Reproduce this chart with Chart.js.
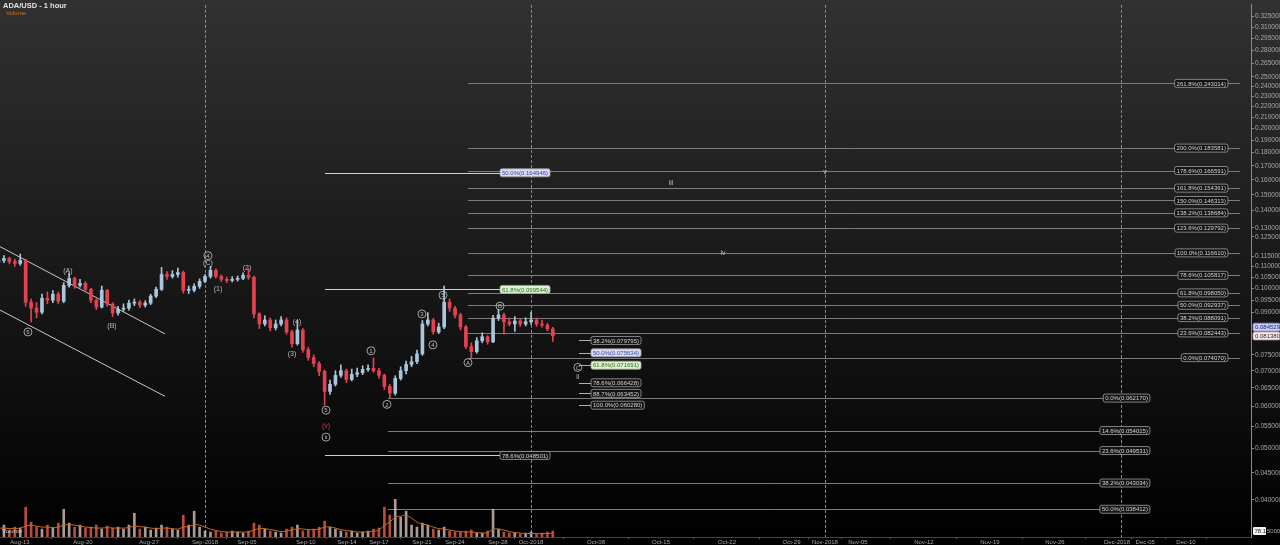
<!DOCTYPE html>
<html><head><meta charset="utf-8">
<script src="https://cdn.jsdelivr.net/npm/chart.js@4.4.1/dist/chart.umd.min.js"></script>
<style>html,body{margin:0;padding:0;background:#000;overflow:hidden}#wrap{width:1280px;height:545px}</style>
</head><body><div id="wrap"><canvas id="c" width="1280" height="545"></canvas></div>
<script>
// ---------- DATA (x unit = days since Aug-13-2018, 12h candles) ----------
const barStepDays = 0.5;
const opens = [0.1120,0.1128,0.1138,0.1123,0.1114,0.1128,0.0942,0.0918,0.0902,0.0958,
 0.0950,0.0975,0.0946,0.1013,0.1044,0.1013,0.1022,0.0996,0.0950,0.0922,
 0.0992,0.0934,0.0899,0.0914,0.0918,0.0938,0.0942,0.0930,0.0938,0.0967,
 0.0996,0.1062,0.1053,0.1062,0.1071,0.0992,0.0992,0.1009,0.1031,0.1053,
 0.1081,0.1053,0.1040,0.1035,0.1040,0.1044,0.1058,0.1049,0.0895,0.0857,
 0.0872,0.0843,0.0857,0.0872,0.0828,0.0787,0.0835,0.0767,0.0741,0.0722,
 0.0698,0.0640,0.0660,0.0686,0.0700,0.0674,0.0689,0.0694,0.0704,0.0707,
 0.0700,0.0686,0.0654,0.0635,0.0677,0.0700,0.0719,0.0728,0.0753,0.0857,
 0.0872,0.0828,0.0846,0.0942,0.0918,0.0891,0.0846,0.0777,0.0760,0.0797,
 0.0811,0.0793,0.0879,0.0891,0.0865,0.0857,0.0868,0.0857,0.0865,0.0872,
 0.0857,0.0853,0.0839];
const closes = [0.1128,0.1138,0.1123,0.1114,0.1128,0.0942,0.0918,0.0902,0.0958,0.0950,
 0.0975,0.0946,0.1013,0.1044,0.1013,0.1022,0.0996,0.0950,0.0922,0.0992,
 0.0934,0.0899,0.0914,0.0918,0.0938,0.0942,0.0930,0.0938,0.0967,0.0996,
 0.1062,0.1053,0.1062,0.1071,0.0992,0.0992,0.1009,0.1031,0.1053,0.1081,
 0.1053,0.1040,0.1035,0.1040,0.1044,0.1058,0.1049,0.0895,0.0857,0.0872,
 0.0843,0.0857,0.0872,0.0828,0.0787,0.0835,0.0767,0.0741,0.0722,0.0698,
 0.0640,0.0660,0.0686,0.0700,0.0674,0.0689,0.0694,0.0704,0.0707,0.0700,
 0.0686,0.0654,0.0635,0.0677,0.0700,0.0719,0.0728,0.0753,0.0857,0.0872,
 0.0828,0.0846,0.0942,0.0918,0.0891,0.0846,0.0777,0.0760,0.0797,0.0811,
 0.0793,0.0879,0.0891,0.0865,0.0857,0.0868,0.0857,0.0865,0.0872,0.0857,
 0.0853,0.0839,0.0814];
const highs = [0.1150,0.1152,0.1145,0.1135,0.1160,0.1135,0.0955,0.0940,0.0975,0.0985,
 0.0990,0.0985,0.1025,0.1068,0.1050,0.1040,0.1030,0.1000,0.0955,0.1010,
 0.0995,0.0940,0.0925,0.0935,0.0950,0.0955,0.0950,0.0948,0.0975,0.1005,
 0.1095,0.1075,0.1080,0.1092,0.1078,0.1010,0.1020,0.1042,0.1062,0.1100,
 0.1088,0.1060,0.1050,0.1052,0.1055,0.1070,0.1090,0.1055,0.0900,0.0888,
 0.0880,0.0872,0.0885,0.0880,0.0835,0.0870,0.0840,0.0775,0.0750,0.0728,
 0.0702,0.0672,0.0700,0.0718,0.0705,0.0705,0.0708,0.0715,0.0718,0.0740,
 0.0708,0.0690,0.0660,0.0685,0.0712,0.0730,0.0745,0.0765,0.0870,0.0900,
 0.0878,0.0860,0.1010,0.0955,0.0925,0.0898,0.0852,0.0790,0.0808,0.0825,
 0.0815,0.0890,0.0912,0.0898,0.0880,0.0885,0.0878,0.0880,0.0902,0.0880,
 0.0872,0.0860,0.0845];
const lows = [0.1110,0.1118,0.1112,0.1100,0.1105,0.0925,0.0865,0.0880,0.0895,0.0935,
 0.0940,0.0935,0.0940,0.1005,0.1000,0.1005,0.0985,0.0940,0.0912,0.0918,
 0.0925,0.0885,0.0890,0.0905,0.0910,0.0928,0.0920,0.0922,0.0932,0.0960,
 0.0990,0.1040,0.1045,0.1050,0.0980,0.0978,0.0985,0.1000,0.1025,0.1045,
 0.1045,0.1030,0.1025,0.1028,0.1032,0.1038,0.1040,0.0880,0.0840,0.0850,
 0.0832,0.0835,0.0850,0.0820,0.0775,0.0782,0.0758,0.0732,0.0712,0.0685,
 0.0603,0.0632,0.0655,0.0680,0.0665,0.0670,0.0682,0.0688,0.0698,0.0695,
 0.0678,0.0645,0.06217,0.0630,0.0672,0.0690,0.0712,0.0722,0.0748,0.0850,
 0.0820,0.0822,0.0840,0.0905,0.0880,0.0835,0.0770,0.07407,0.0755,0.0790,
 0.0785,0.0790,0.0870,0.0820,0.0850,0.0830,0.0848,0.0850,0.0855,0.0848,
 0.0845,0.0832,0.0795];
const volumes = [16,24,12,20,18,60,30,20,16,24,
 18,28,56,28,20,24,18,20,24,16,
 22,18,20,16,24,48,16,20,14,18,
 24,20,16,14,44,24,52,20,12,10,
 12,8,10,12,10,8,12,28,24,16,
 12,10,8,16,20,24,12,14,16,20,
 32,20,16,12,10,12,8,10,12,16,
 18,60,44,76,40,52,24,20,28,24,
 16,14,20,12,10,10,12,14,8,8,
 12,56,16,10,8,8,6,8,10,6,
 8,10,12];
const volumeAvg = [18,18,17,17,18,22,24,22,20,20,
 19,20,24,25,24,22,20,19,18,18,
 19,18,18,18,19,22,21,20,18,17,
 18,18,17,16,20,21,25,24,20,16,
 13,11,10,10,10,10,10,14,17,17,
 15,13,11,12,14,17,16,15,15,16,
 20,20,18,15,13,12,10,10,10,12,
 14,24,30,40,42,44,38,30,26,24,
 20,17,16,14,12,11,10,10,9,8,
 9,16,16,14,11,9,8,7,7,7,
 7,7,8];

// axis ticks
const xTickPos = [1.98,7.77,13.85,19.0,22.86,28.29,32.06,35.0,38.96,42.0,45.95,48.99,54.97,60.95,67.02,72.96,76.03,79.07,85.14,91.21,97.19,102.9,105.5,109.25];
const xTickLabels = ['Aug-13','Aug-20','Aug-27','Sep-2018','Sep-05','Sep-10','Sep-14','Sep-17','Sep-21','Sep-24','Sep-28','Oct-2018','Oct-08','Oct-15','Oct-22','Oct-29','Nov-2018','Nov-05','Nov-12','Nov-19','Nov-26','Dec-2018','Dec-05','Dec-10'];
const monthLinePos = [19.0,48.99,76.03,103.27];
const yTickVals = [0.325,0.31,0.295,0.28,0.265,0.25,0.24,0.23,0.22,0.21,0.2,0.19,0.18,0.17,0.16,0.15,0.14,0.13,0.125,0.115,0.11,0.105,0.1,0.095,0.09,0.075,0.07,0.065,0.06,0.055,0.05,0.045,0.04];

// Fibonacci sets
const fibRightPct = ['261.8%','200.0%','178.6%','161.8%','150.0%','138.2%','123.6%','100.0%','78.6%','61.8%','50.0%','38.2%','23.6%','0.0%'];
const fibRightVal = [0.243014,0.183581,0.166591,0.154361,0.146313,0.138684,0.129792,0.116610,0.105817,0.098050,0.092937,0.088091,0.082443,0.074070];
const fibRightSpan = [43.19,114.2];
const fibLowPct = ['0.0%','14.6%','23.6%','38.2%','50.0%'];
const fibLowVal = [0.062170,0.054015,0.049531,0.043034,0.038412];
const fibLowSpan = [35.83,105.93];
const fibLeftPct = ['50.0%','61.8%','78.6%'];
const fibLeftVal = [0.164946,0.099544,0.048501];
const fibLeftSpan = [30.04,46.14];
const fibMidPct = ['38.2%','50.0%','61.8%','78.6%','88.7%','100.0%'];
const fibMidVal = [0.079795,0.075634,0.071691,0.066428,0.063452,0.060280];
const fibMidSpan = [53.4,54.51];

// channel lines [day0, price0, day1, price1]
const channelUpper = [0.14,0.11979,15.32,0.08211];
const channelLower = [0.14,0.09102,15.32,0.06265];

// Elliott wave labels
const waveText  = ['5','(A)','(B)','4','(C)','(1)','(2)','(3)','(4)','5','(v)','ii','1','2','3','4','5','A','B','C','ii','iii','iv','v'];
const waveDay   = [2.71,6.39,10.44,19.27,19.27,20.2,22.86,27.0,27.46,30.13,30.13,30.13,34.27,35.74,38.96,39.97,40.89,43.19,46.14,53.3,53.3,61.87,66.65,76.03];
const wavePrice = [0.0828,0.1081,0.0853,0.1152,0.1118,0.1000,0.1095,0.0754,0.0865,0.0590,0.0551,0.0525,0.0763,0.0605,0.0895,0.0783,0.0971,0.0725,0.0926,0.0710,0.0683,0.1583,0.1166,0.1660];
const waveCircle= [1,0,0,1,0,0,0,0,0,1,0,1,1,1,1,1,1,1,1,1,0,0,0,0];

const lastPrices = [0.084529,0.081380];

// ---------- build ----------
const xMin = 0.138, xMax = 115.23;
const yMin = 0.034063, yMax = 0.34135;
const UP = '#a9c6de', DOWN = '#e5424f';
const candleX = closes.map((_,i)=>i*barStepDays);
const isUp = closes.map((c,i)=>c>=opens[i]);
const wickData = candleX.map((x,i)=>({x, y:[lows[i],highs[i]]}));
const bodyData = candleX.map((x,i)=>({x, y:[opens[i],closes[i]]}));
const volData = candleX.map((x,i)=>({x, y:volumes[i]}));
const volAvgData = candleX.map((x,i)=>({x, y:volumeAvg[i]}));
const colors = isUp.map(u=>u?UP:DOWN);

function rr(ctx,x,y,w,h,r){ctx.beginPath();ctx.moveTo(x+r,y);ctx.lineTo(x+w-r,y);ctx.quadraticCurveTo(x+w,y,x+w,y+r);ctx.lineTo(x+w,y+h-r);ctx.quadraticCurveTo(x+w,y+h,x+w-r,y+h);ctx.lineTo(x+r,y+h);ctx.quadraticCurveTo(x,y+h,x,y+h-r);ctx.lineTo(x,y+r);ctx.quadraticCurveTo(x,y,x+r,y);ctx.closePath();}
function box(ctx,text,x,y,align,fill,stroke,color){
  ctx.font='6px Arial';
  const w=ctx.measureText(text).width+4,h=8;
  const left=align==='right'?x-w:x;
  rr(ctx,left,y-h/2,w,h,2);
  ctx.fillStyle=fill;ctx.fill();ctx.strokeStyle=stroke;ctx.lineWidth=0.8;ctx.stroke();
  ctx.fillStyle=color;ctx.textBaseline='middle';ctx.textAlign='left';ctx.fillText(text,left+2,y+0.5);
}
const annot = {
  id:'annot',
  beforeDraw(chart){
    const {ctx,width,height}=chart;
    const g=ctx.createLinearGradient(0,0,0,height);
    g.addColorStop(0,'#313131');g.addColorStop(0.45,'#1b1b1b');g.addColorStop(1,'#000');
    ctx.save();ctx.fillStyle=g;ctx.fillRect(0,0,width,height);ctx.restore();
  },
  beforeDatasetsDraw(chart){
    const {ctx,chartArea:a}=chart;const xs=chart.scales.x,ys=chart.scales.y;
    const px=v=>xs.getPixelForValue(v),py=v=>ys.getPixelForValue(v);
    ctx.save();
    ctx.beginPath();ctx.rect(a.left,a.top,a.right-a.left,a.bottom-a.top);ctx.clip();
    ctx.strokeStyle='#8a8a8a';ctx.lineWidth=1;ctx.setLineDash([3,2]);
    monthLinePos.forEach(m=>{const x=Math.round(px(m))+0.5;ctx.beginPath();ctx.moveTo(x,a.top);ctx.lineTo(x,a.bottom);ctx.stroke();});
    ctx.setLineDash([]);
    const hl=(vals,span,col)=>{ctx.strokeStyle=col;vals.forEach(v=>{const y=Math.round(py(v))+0.5;ctx.beginPath();ctx.moveTo(px(span[0]),y);ctx.lineTo(px(span[1]),y);ctx.stroke();});};
    hl(fibRightVal,fibRightSpan,'#7c7c7c');
    hl(fibLowVal,fibLowSpan,'#7c7c7c');
    hl(fibLeftVal,fibLeftSpan,'#cfcfcf');
    hl(fibMidVal,fibMidSpan,'#b0b0b0');
    ctx.strokeStyle='#c8c8c8';
    [channelUpper,channelLower].forEach(c=>{ctx.beginPath();ctx.moveTo(px(c[0]),py(c[1]));ctx.lineTo(px(c[2]),py(c[3]));ctx.stroke();});
    ctx.restore();
  },
  afterDatasetsDraw(chart){
    const {ctx}=chart;const xs=chart.scales.x,ys=chart.scales.y;
    const px=v=>xs.getPixelForValue(v),py=v=>ys.getPixelForValue(v);
    ctx.save();
    const dark='#141414',bd='#a0a0a0',tc='#d4d4d4';
    fibRightVal.forEach((v,i)=>box(ctx,fibRightPct[i]+'('+v.toFixed(6)+')',px(113.11),py(v),'right',dark,bd,tc));
    fibLowVal.forEach((v,i)=>box(ctx,fibLowPct[i]+'('+v.toFixed(6)+')',px(fibLowSpan[1]),py(v),'right',dark,bd,tc));
    fibLeftVal.forEach((v,i)=>{
      const f=i===0?'#d8dcf6':(i===1?'#dcf3cf':dark), c=i===0?'#3a44a0':(i===1?'#2f6a22':tc);
      box(ctx,fibLeftPct[i]+'('+v.toFixed(6)+')',px(fibLeftSpan[1]),py(v),'left',f,bd,c);});
    fibMidVal.forEach((v,i)=>{
      const f=i===1?'#d8dcf6':(i===2?'#dcf3cf':dark), c=i===1?'#3a44a0':(i===2?'#2f6a22':tc);
      box(ctx,fibMidPct[i]+'('+v.toFixed(6)+')',px(fibMidSpan[1]),py(v),'left',f,bd,c);});
    ctx.textAlign='center';ctx.textBaseline='middle';
    waveText.forEach((t,i)=>{
      const x=px(waveDay[i]),y=py(wavePrice[i]);
      const red=t==='(v)';
      if(waveCircle[i]){ctx.beginPath();ctx.arc(x,y,4,0,Math.PI*2);ctx.strokeStyle='#c8c8c8';ctx.lineWidth=0.8;ctx.stroke();
        ctx.font='6px Arial';}else{ctx.font='7px Arial';}
      ctx.fillStyle=red?'#e03a3a':'#bdbdbd';
      ctx.fillText(t,x,y+0.5);
    });
    ctx.restore();
  },
  afterDraw(chart){
    const {ctx}=chart;const ys=chart.scales.y;
    ctx.save();
    ctx.textAlign='left';ctx.textBaseline='top';
    ctx.font='bold 7.5px Arial';ctx.fillStyle='#e2e2e2';ctx.fillText('ADA/USD - 1 hour',3,2);
    ctx.font='6px Arial';ctx.fillStyle='#d0701e';ctx.fillText('Volume',6,10);
    ctx.fillStyle='#cfcfcf';ctx.fillText('Volume',2,528);
    const fills=['#c9cdf2','#f3eded'],tcs=['#202a80','#3a2020'],bds=['#7f88d8','#d08c96'];
    lastPrices.forEach((v,i)=>{
      const y=ys.getPixelForValue(v);ctx.font='6px Arial';
      rr(ctx,1253,y-4,27,8,1.5);ctx.fillStyle=fills[i];ctx.fill();ctx.strokeStyle=bds[i];ctx.lineWidth=0.8;ctx.stroke();
      ctx.fillStyle=tcs[i];ctx.textBaseline='middle';ctx.fillText(v.toFixed(6),1255,y+0.5);
    });
    rr(ctx,1253,527,13,8,1);ctx.fillStyle='#f2f2f2';ctx.fill();
    ctx.fillStyle='#222';ctx.font='6px Arial';ctx.textBaseline='middle';ctx.fillText('78.1',1254.5,531.5);
    ctx.fillStyle='#a8a8a8';ctx.fillText('5000',1267,531.5);
    ctx.restore();
  }
};

new Chart(document.getElementById('c'),{
  type:'bar',
  data:{datasets:[
    {type:'bar',label:'Volume',data:volData,yAxisID:'yv',backgroundColor:colors.map(c=>c===UP?'rgba(225,205,200,0.75)':'rgba(232,96,72,0.8)'),barThickness:2,grouped:false,order:5},
    {type:'line',label:'VolAvg',data:volAvgData,yAxisID:'yv',borderColor:'#c66a1c',borderWidth:1,pointRadius:0,tension:0.35,order:4},
    {type:'bar',label:'wick',data:wickData,backgroundColor:colors,barThickness:1,grouped:false,order:2},
    {type:'bar',label:'body',data:bodyData,backgroundColor:colors,barThickness:3,minBarLength:1,grouped:false,order:1}
  ]},
  options:{
    responsive:false,animation:false,
    layout:{padding:0},
    plugins:{legend:{display:false},tooltip:{enabled:false}},
    scales:{
      x:{type:'linear',min:xMin,max:xMax,offset:false,position:'bottom',
        afterBuildTicks:s=>{s.ticks=xTickPos.map(v=>({value:v}));},
        ticks:{autoSkip:false,maxRotation:0,minRotation:0,font:{size:6,family:'Arial'},color:'#a8a8a8',padding:0,
          callback:(v,i)=>xTickLabels[i]},
        grid:{drawOnChartArea:false,tickLength:2,color:'#666'},
        border:{color:'#444'},
        afterFit:s=>{s.height=8;}
      },
      y:{type:'logarithmic',position:'right',min:yMin,max:yMax,
        afterBuildTicks:s=>{s.ticks=yTickVals.map(v=>({value:v}));},
        ticks:{autoSkip:false,font:{size:6.5,family:'Arial'},color:'#a8a8a8',padding:1,callback:v=>Number(v).toFixed(6)},
        grid:{drawOnChartArea:false,tickLength:3,color:'#8a8a8a'},
        border:{color:'#8a8a8a'},
        afterFit:s=>{s.width=29;}
      },
      yv:{type:'linear',display:false,min:0,max:1074}
    }
  },
  plugins:[annot]
});
</script></body></html>
